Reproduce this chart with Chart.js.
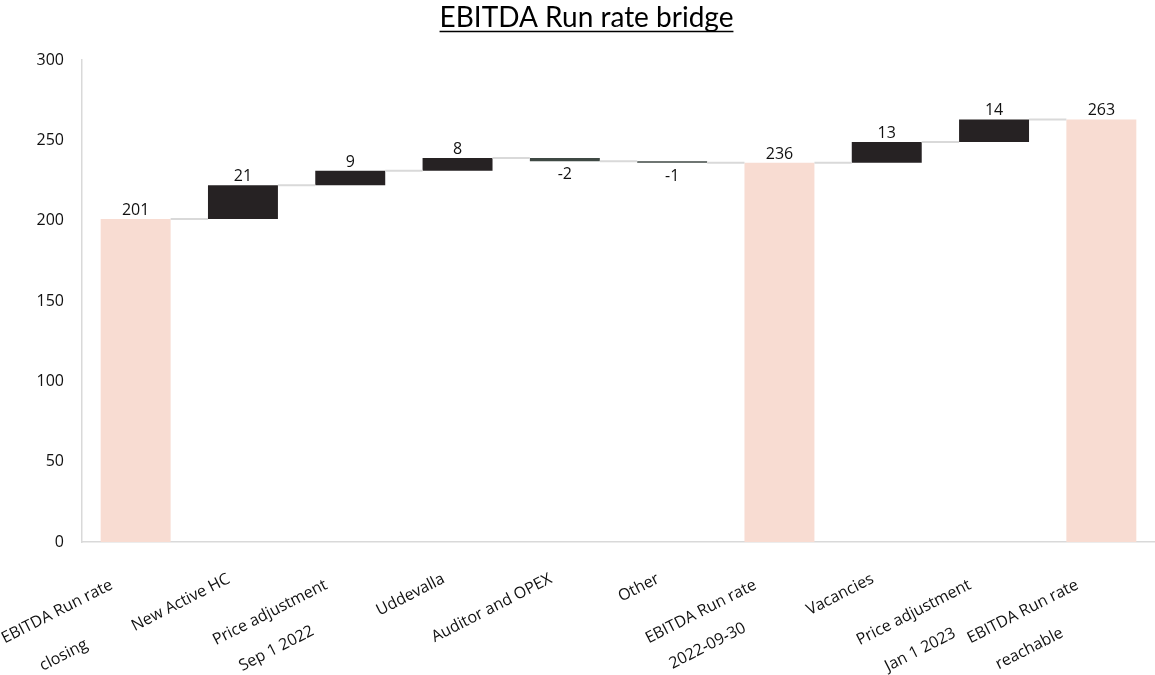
<!DOCTYPE html>
<html>
<head>
<meta charset="utf-8">
<title>EBITDA Run rate bridge</title>
<style>
  html, body { margin: 0; padding: 0; background: #ffffff; }
  #wrap { width: 1155px; height: 675px; }
</style>
<script src="https://cdn.jsdelivr.net/npm/chart.js@4.4.1/dist/chart.umd.min.js"></script>
</head>
<body>
<div id="wrap"><canvas id="bridge" width="1155" height="675"></canvas></div>
<script>
// ---- data ----
const titleText = 'EBITDA Run rate bridge';
const categories = [
  ['EBITDA Run rate', 'closing'],
  'New Active HC',
  ['Price adjustment', 'Sep 1 2022'],
  'Uddevalla',
  'Auditor and OPEX',
  'Other',
  ['EBITDA Run rate', '2022-09-30'],
  'Vacancies',
  ['Price adjustment', 'Jan 1 2023'],
  ['EBITDA Run rate', 'reachable']
];
// totals are absolute levels, the rest are changes
const steps  = [201, 21, 9, 8, -2, -1, 236, 13, 14, 263];
const totals = [true, false, false, false, false, false, true, false, false, true];
const yMin = 0, yMax = 300, yStep = 50;

// ---- styling ----
const colours = {
  total: '#f8dcd2',
  up: '#262223',
  down: '#3f4944',
  connector: '#d9d9d9',
  axis: '#d9d9d9',
  text: '#111111'
};
const bodyFont = '"Open Sans", "Noto Sans", sans-serif';
const titleFont = 'Lato, "Open Sans", sans-serif';

// floating [start, end] ranges for each bar
let running = 0;
const ranges = steps.map((v, i) => {
  if (totals[i]) { running = v; return [0, v]; }
  const start = running;
  running += v;
  return [start, running];
});
const levels = ranges.map(r => r[1]);
const barColours = steps.map((v, i) => totals[i] ? colours.total : (v >= 0 ? colours.up : colours.down));

// title with underline
const titlePlugin = {
  id: 'underlinedTitle',
  afterDraw(chart) {
    const ctx = chart.ctx;
    ctx.save();
    ctx.font = '28px ' + titleFont;
    ctx.fillStyle = '#000000';
    ctx.textAlign = 'center';
    ctx.textBaseline = 'alphabetic';
    const cx = chart.width / 2 + 9;
    const base = 27;
    ctx.fillText(titleText, cx, base);
    const w = ctx.measureText(titleText).width;
    ctx.strokeStyle = '#000000';
    ctx.lineWidth = 1.5;
    ctx.beginPath();
    ctx.moveTo(cx - w / 2, base + 4.5);
    ctx.lineTo(cx + w / 2, base + 4.5);
    ctx.stroke();
    ctx.restore();
  }
};

// connectors between neighbouring bars at the running level
const connectorPlugin = {
  id: 'connectors',
  afterDatasetsDraw(chart) {
    const meta = chart.getDatasetMeta(0);
    const y = chart.scales.y;
    const ctx = chart.ctx;
    ctx.save();
    ctx.strokeStyle = colours.connector;
    ctx.lineWidth = 2;
    for (let i = 0; i < meta.data.length - 1; i++) {
      const a = meta.data[i], b = meta.data[i + 1];
      const py = y.getPixelForValue(levels[i]);
      ctx.beginPath();
      ctx.moveTo(a.x + a.width / 2, py);
      ctx.lineTo(b.x - b.width / 2, py);
      ctx.stroke();
    }
    ctx.restore();
  }
};

// value labels: above rising/total bars, below falling bars
const valueLabelPlugin = {
  id: 'valueLabels',
  afterDatasetsDraw(chart) {
    const meta = chart.getDatasetMeta(0);
    const ctx = chart.ctx;
    ctx.save();
    ctx.font = '16px ' + bodyFont;
    ctx.fillStyle = colours.text;
    ctx.textAlign = 'center';
    ctx.textBaseline = 'alphabetic';
    meta.data.forEach((bar, i) => {
      const top = Math.min(bar.y, bar.base);
      const bottom = Math.max(bar.y, bar.base);
      const label = String(steps[i]);
      if (!totals[i] && steps[i] < 0) {
        ctx.fillText(label, bar.x, bottom + 18);
      } else {
        ctx.fillText(label, bar.x, top - 4);
      }
    });
    ctx.restore();
  }
};

// slanted category labels; a shorter second line sits a little lower
const categoryLabelPlugin = {
  id: 'categoryLabels',
  afterDraw(chart) {
    const xs = chart.scales.x;
    const ctx = chart.ctx;
    const ang = 27 * Math.PI / 180;
    const cos = Math.cos(ang), sin = Math.sin(ang);
    ctx.save();
    ctx.font = '16px ' + bodyFont;
    ctx.fillStyle = colours.text;
    ctx.textAlign = 'center';
    ctx.textBaseline = 'middle';
    categories.forEach((lab, i) => {
      const lines = Array.isArray(lab) ? lab : [lab];
      const n = lines.length;
      const tick = xs.getPixelForValue(i);
      const rx = tick - 14 - 10 * (n - 1);
      const ry = xs.top + 36 + 6 * (n - 1);
      const w1 = ctx.measureText(lines[0]).width;
      const cx = rx - (w1 / 2) * cos;
      const cy = ry + (w1 / 2) * sin;
      lines.forEach((ln, k) => {
        let dx = 0, dy = 0;
        if (k > 0) {
          const wk = ctx.measureText(ln).width;
          dx = 6.5 * k;
          dy = k * (23 + 0.29 * Math.max(0, w1 - wk));
        }
        ctx.save();
        ctx.translate(cx + dx, cy + dy);
        ctx.rotate(-ang);
        ctx.fillText(ln, 0, 0);
        ctx.restore();
      });
    });
    ctx.restore();
  }
};

new Chart(document.getElementById('bridge'), {
  type: 'bar',
  data: {
    labels: categories,
    datasets: [{
      data: ranges,
      backgroundColor: barColours,
      borderWidth: 0,
      borderSkipped: false,
      categoryPercentage: 1,
      barPercentage: 0.652
    }]
  },
  options: {
    responsive: false,
    devicePixelRatio: 1,
    animation: false,
    layout: { padding: { top: 60, right: 0, bottom: 0, left: 0 } },
    plugins: {
      legend: { display: false },
      title: { display: false },
      tooltip: { enabled: false }
    },
    scales: {
      x: {
        grid: { display: false },
        border: { display: true, color: colours.axis, width: 1.5 },
        ticks: { display: false },
        afterFit(scale) { scale.height = 133; }
      },
      y: {
        min: yMin,
        max: yMax,
        grid: { display: false, drawTicks: false },
        border: { display: true, color: colours.axis, width: 1.5 },
        ticks: {
          stepSize: yStep,
          padding: 18,
          color: colours.text,
          font: { family: bodyFont, size: 16 }
        },
        afterFit(scale) { scale.width = 82; }
      }
    }
  },
  plugins: [connectorPlugin, valueLabelPlugin, categoryLabelPlugin, titlePlugin]
});
</script>
</body>
</html>
